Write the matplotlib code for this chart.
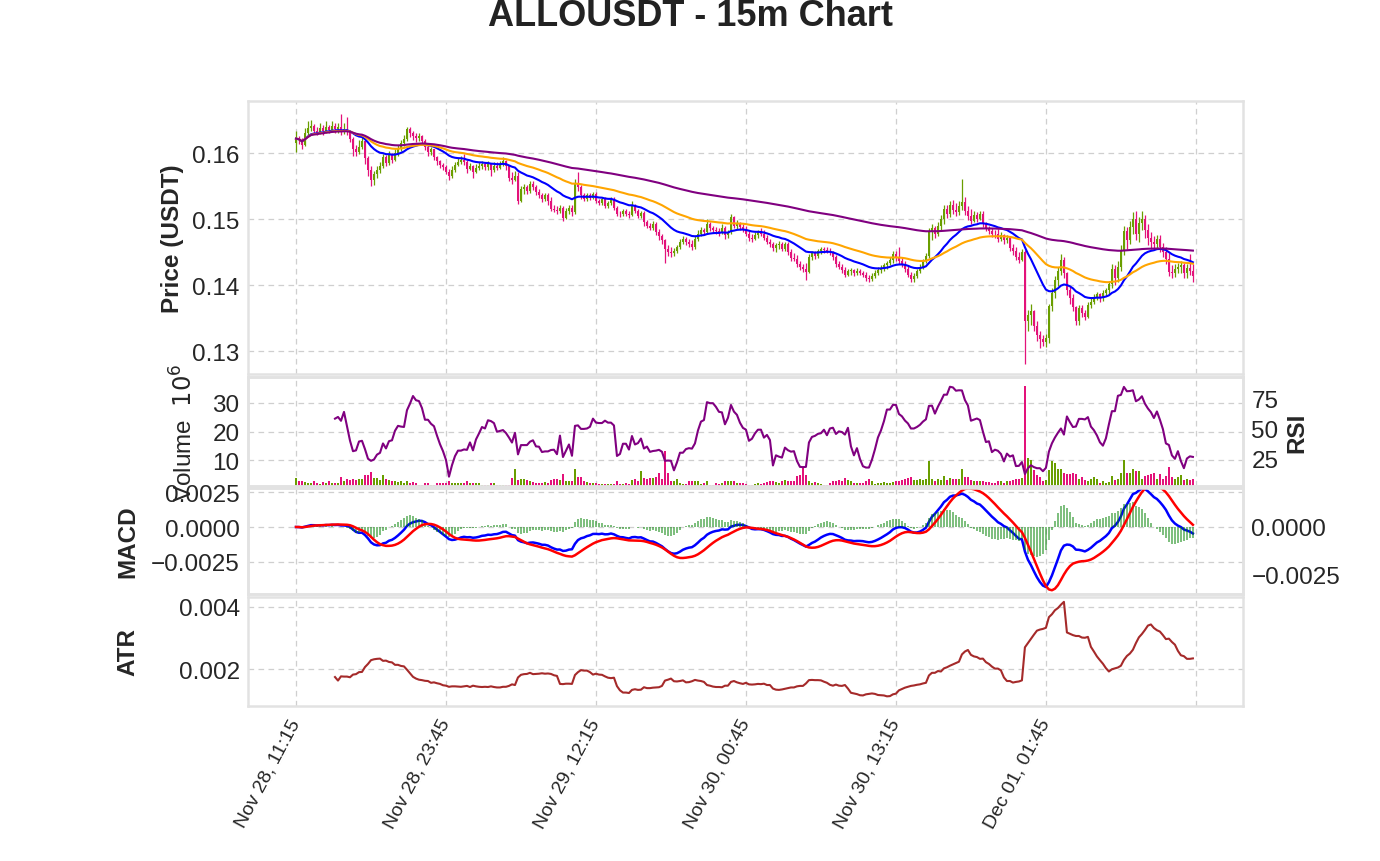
import pandas as pd
import numpy as np
import matplotlib
matplotlib.use('Agg')
import matplotlib.pyplot as plt
from matplotlib.ticker import MultipleLocator, FuncFormatter

plt.rcParams['font.family'] = ['Liberation Sans', 'DejaVu Sans']

# 15m candles, prices in units of 0.0001 USDT
start_time = '2024-11-28 11:15'
first_open = 1616
close = [
    1622, 1620, 1612, 1630, 1638, 1641, 1634, 1631, 1638, 1633, 1640, 1635, 1641, 1636, 1639, 1632, 1637, 1633,
    1622, 1606, 1601, 1610, 1618, 1592, 1575, 1560, 1568, 1574, 1580, 1594, 1585, 1598, 1590, 1600, 1608, 1615, 1622,
    1636, 1630, 1626, 1623, 1626, 1619, 1610, 1601, 1606, 1594, 1588, 1582, 1579, 1572, 1565,
    1574, 1582, 1587, 1590, 1586, 1576, 1580, 1572, 1578, 1581, 1584, 1579, 1583, 1575, 1581, 1578, 1584, 1588, 1580, 1563, 1560, 1566, 1528,
    1545, 1548, 1543, 1553, 1549, 1541, 1537, 1531, 1536, 1528, 1516, 1514, 1512, 1517, 1502, 1512, 1517, 1510, 1555, 1548, 1536,
    1530, 1536, 1532, 1538, 1528, 1525, 1530, 1520, 1525, 1530, 1517, 1508, 1507, 1513, 1507, 1506, 1520, 1512, 1505, 1509, 1495, 1490, 1487, 1493, 1481, 1474, 1468,
    1455, 1450, 1448, 1452, 1458, 1466, 1470, 1465, 1462, 1458, 1470, 1478, 1484, 1480, 1492, 1486, 1484, 1482, 1480, 1487, 1476, 1480, 1503, 1490,
    1494, 1488, 1485, 1478, 1472, 1470, 1476, 1480, 1478, 1472, 1466, 1462, 1456, 1460, 1463, 1455, 1462, 1450, 1441, 1440, 1432, 1428, 1425, 1420,
    1443, 1448, 1444, 1451, 1455, 1453, 1452, 1450, 1442, 1432, 1428, 1423, 1416, 1421, 1423, 1418, 1422, 1419, 1416, 1410, 1409, 1414, 1419, 1423, 1426, 1430, 1433, 1438, 1447,
    1442, 1437, 1432, 1425, 1416, 1409, 1414, 1421, 1428, 1436, 1444, 1480, 1486, 1478, 1490, 1500, 1515, 1508, 1522, 1514, 1510, 1520, 1526,
    1512, 1505, 1497, 1506, 1500, 1508, 1493, 1487, 1482, 1478, 1477, 1470, 1476, 1468, 1472, 1456, 1452, 1443, 1438, 1450,
    1345, 1355, 1360, 1338, 1325, 1318, 1314, 1320, 1368, 1388, 1408, 1422, 1438, 1418, 1392, 1380, 1366, 1346,
    1365, 1358, 1352, 1370, 1375, 1382, 1386, 1380, 1388, 1392, 1402, 1424, 1410, 1428, 1452, 1482, 1468, 1488, 1500, 1478,
    1494, 1500, 1484, 1472, 1466, 1462, 1470, 1458, 1450, 1440, 1420, 1418, 1424, 1428, 1430, 1418, 1426, 1422, 1414,
]
high = [
    1633, 1626, 1623, 1638, 1648, 1650, 1644, 1640, 1646, 1642, 1648, 1643, 1649, 1645, 1646, 1659, 1645, 1655,
    1634, 1625, 1612, 1620, 1624, 1620, 1596, 1580, 1573, 1580, 1586, 1598, 1597, 1603, 1600, 1606, 1612, 1620, 1627,
    1640, 1639, 1634, 1630, 1631, 1628, 1622, 1612, 1610, 1607, 1596, 1590, 1585, 1582, 1576,
    1580, 1586, 1592, 1595, 1598, 1590, 1585, 1582, 1584, 1586, 1588, 1586, 1588, 1585, 1586, 1586, 1588, 1594, 1590, 1582, 1571, 1573, 1571,
    1550, 1553, 1551, 1558, 1557, 1551, 1545, 1540, 1540, 1539, 1534, 1522, 1520, 1521, 1520, 1517, 1521, 1522, 1561, 1571, 1552,
    1539, 1539, 1539, 1541, 1541, 1531, 1533, 1533, 1528, 1533, 1533, 1520, 1512, 1516, 1516, 1512, 1528, 1523, 1515, 1512, 1512, 1498, 1494, 1497, 1496, 1485, 1478,
    1470, 1460, 1458, 1456, 1461, 1470, 1475, 1473, 1470, 1468, 1474, 1484, 1488, 1487, 1500, 1495, 1490, 1488, 1487, 1492, 1490, 1484, 1508, 1505,
    1498, 1496, 1492, 1490, 1482, 1478, 1480, 1484, 1486, 1484, 1476, 1470, 1466, 1464, 1467, 1466, 1466, 1465, 1455, 1448, 1445, 1437, 1432, 1434,
    1447, 1452, 1452, 1455, 1458, 1458, 1457, 1456, 1452, 1445, 1436, 1432, 1428, 1424, 1426, 1425, 1426, 1424, 1422, 1420, 1415, 1418, 1423, 1427, 1430, 1434, 1437, 1442, 1452,
    1451, 1457, 1442, 1436, 1430, 1420, 1418, 1425, 1432, 1440, 1448, 1486, 1492, 1490, 1496, 1506, 1522, 1522, 1528, 1529, 1524, 1527, 1561,
    1534, 1520, 1515, 1512, 1510, 1512, 1512, 1495, 1490, 1486, 1484, 1485, 1480, 1478, 1476, 1474, 1462, 1458, 1450, 1455,
    1453, 1362, 1372, 1362, 1345, 1330, 1324, 1326, 1372, 1395, 1414, 1428, 1447, 1442, 1420, 1398, 1386, 1368,
    1370, 1370, 1362, 1374, 1380, 1386, 1390, 1388, 1392, 1396, 1406, 1432, 1430, 1436, 1460, 1490, 1488, 1497, 1510, 1512,
    1503, 1512, 1506, 1492, 1480, 1474, 1476, 1476, 1464, 1458, 1448, 1430, 1432, 1434, 1436, 1434, 1432, 1447, 1432,
]
low = [
    1602, 1614, 1606, 1611, 1628, 1633, 1630, 1627, 1629, 1628, 1631, 1630, 1632, 1630, 1631, 1628, 1629, 1628,
    1617, 1596, 1596, 1598, 1606, 1584, 1565, 1550, 1552, 1563, 1570, 1577, 1580, 1582, 1585, 1588, 1596, 1603, 1611,
    1619, 1624, 1620, 1617, 1619, 1614, 1604, 1596, 1597, 1590, 1582, 1577, 1574, 1568, 1560,
    1563, 1572, 1580, 1584, 1582, 1570, 1574, 1563, 1570, 1574, 1576, 1574, 1575, 1566, 1572, 1574, 1576, 1580, 1574, 1558, 1553, 1557, 1523,
    1526, 1538, 1538, 1540, 1544, 1536, 1532, 1526, 1528, 1522, 1512, 1510, 1507, 1509, 1497, 1500, 1508, 1505, 1508, 1543, 1530,
    1527, 1527, 1529, 1530, 1525, 1522, 1522, 1517, 1517, 1522, 1514, 1505, 1503, 1504, 1504, 1502, 1504, 1509, 1502, 1502, 1490, 1486, 1483, 1484, 1476, 1469, 1463,
    1434, 1444, 1443, 1444, 1448, 1455, 1462, 1460, 1457, 1453, 1455, 1467, 1474, 1476, 1478, 1482, 1479, 1478, 1474, 1478, 1470, 1471, 1478, 1486,
    1485, 1483, 1481, 1474, 1467, 1466, 1468, 1472, 1474, 1468, 1462, 1457, 1452, 1450, 1455, 1451, 1452, 1446, 1437, 1436, 1428, 1423, 1420, 1407,
    1418, 1438, 1439, 1441, 1447, 1449, 1448, 1446, 1438, 1428, 1424, 1419, 1412, 1413, 1416, 1414, 1416, 1415, 1412, 1406, 1404, 1406, 1411, 1415, 1419, 1422, 1425, 1430, 1434,
    1437, 1432, 1427, 1420, 1412, 1405, 1404, 1410, 1418, 1425, 1433, 1441, 1468, 1472, 1474, 1483, 1493, 1501, 1503, 1508, 1504, 1506, 1514,
    1506, 1498, 1492, 1495, 1495, 1498, 1488, 1482, 1477, 1473, 1472, 1465, 1467, 1463, 1464, 1452, 1446, 1438, 1433, 1436,
    1280, 1330, 1340, 1330, 1315, 1305, 1308, 1306, 1312, 1360, 1380, 1398, 1415, 1410, 1385, 1372, 1360, 1340,
    1340, 1352, 1347, 1350, 1365, 1372, 1378, 1375, 1376, 1384, 1386, 1396, 1400, 1404, 1422, 1446, 1455, 1462, 1478, 1468,
    1465, 1484, 1472, 1460, 1455, 1454, 1456, 1450, 1442, 1432, 1413, 1410, 1412, 1418, 1418, 1410, 1410, 1415, 1405,
]
# volume in millions
volume = [
    3.7, 2.5, 2.5, 2.3, 2.05, 2.05, 2.5, 1.8, 1.6, 2.3,
    2.05, 2.5, 2.05, 2.05, 2.05, 3.9, 2.5, 3.4, 3.0, 3.2,
    3.0, 3.2, 3.2, 4.8, 4.8, 5.9, 3.7, 3.7, 3.0, 4.6,
    3.2, 3.0, 2.5, 2.5, 2.3, 2.5, 2.05, 2.5, 2.05, 2.3,
    1.8, 1.2, 1.2, 2.05, 2.05, 1.2, 1.2, 2.05, 2.05, 2.05,
    2.05, 2.5, 2.05, 2.05, 2.05, 1.8, 1.8, 2.5, 1.8, 1.8,
    2.05, 1.8, 1.2, 1.2, 1.2, 1.8, 1.8, 1.2, 1.2, 1.2,
    1.2, 1.2, 3.7, 7.0, 3.0, 3.2, 3.4, 3.0, 2.5, 2.3,
    2.05, 2.05, 2.05, 2.3, 2.05, 3.0, 3.2, 3.2, 3.0, 5.1,
    2.5, 2.5, 2.5, 6.7, 3.9, 3.9, 2.5, 2.3, 1.8, 1.8,
    2.05, 1.5, 1.5, 1.5, 1.5, 1.5, 1.5, 2.5, 1.5, 1.5,
    2.05, 1.5, 3.0, 3.2, 2.75, 6.2, 3.7, 3.2, 3.7, 3.7,
    3.9, 5.3, 3.2, 13.0, 5.3, 2.5, 2.5, 3.2, 2.05, 1.5,
    1.5, 2.5, 2.5, 2.5, 2.5, 1.5, 2.05, 2.5, 1.2, 1.2,
    1.8, 1.6, 2.05, 2.5, 2.5, 2.75, 2.75, 2.05, 2.05, 2.05,
    1.6, 1.2, 1.2, 1.6, 1.8, 1.6, 2.05, 2.3, 2.5, 2.75,
    2.3, 2.05, 2.5, 3.0, 2.5, 2.5, 2.5, 4.3, 4.8, 7.2,
    4.8, 2.5, 2.05, 2.3, 1.8, 1.6, 1.2, 1.2, 2.05, 2.5,
    2.75, 3.0, 2.5, 3.7, 3.0, 2.5, 2.05, 2.05, 2.05, 1.8,
    2.75, 3.4, 2.5, 1.6, 2.05, 2.05, 2.3, 2.05, 2.05, 2.3,
    2.75, 2.5, 3.0, 3.2, 3.7, 3.9, 3.0, 3.0, 3.2, 3.0,
    3.2, 9.8, 3.2, 2.5, 3.2, 3.0, 4.4, 3.0, 3.7, 3.2,
    3.2, 3.2, 7.0, 3.9, 3.9, 3.0, 2.5, 2.5, 2.5, 2.5,
    2.3, 2.3, 2.05, 2.05, 2.5, 2.5, 2.05, 2.75, 2.5, 3.0,
    3.2, 3.2, 3.7, 36.0, 10.7, 10.0, 6.5, 4.8, 3.9, 2.75,
    3.0, 6.5, 9.5, 9.1, 7.0, 7.0, 5.5, 5.1, 5.1, 5.3,
    5.1, 3.4, 3.9, 3.0, 2.75, 3.2, 3.9, 3.2, 2.05, 2.5,
    2.05, 2.3, 4.4, 3.0, 3.2, 5.3, 10.0, 5.3, 5.5, 6.7,
    6.0, 6.2, 3.2, 4.4, 4.8, 5.1, 5.3, 3.2, 5.1, 3.2,
    4.4, 7.4, 3.9, 3.2, 3.9, 4.8, 3.0, 3.2, 3.0, 3.2,
]
assert len(close) == len(high) == len(low) == len(volume) == 300

# frame
n = len(close)
x = np.arange(n)
df = pd.DataFrame({'close': close, 'high': high, 'low': low}, dtype=float) / 10000
df['open'] = df['close'].shift(1).fillna(first_open / 10000)
df['high'] = df[['high', 'open', 'close']].max(axis=1)
df['low'] = df[['low', 'open', 'close']].min(axis=1)
df['volume'] = volume
dates = pd.date_range(start_time, periods=n, freq='15min')

# indicators
ema_fast = df['close'].ewm(span=20).mean()
ema_mid = df['close'].ewm(span=50).mean()
ema_slow = df['close'].ewm(span=200).mean()
delta = df['close'].diff()
gain = delta.where(delta > 0, 0).rolling(14).mean()
loss = (-delta.where(delta < 0, 0)).rolling(14).mean()
rsi = 100 - 100 / (1 + gain / loss)
macd = df['close'].ewm(span=12).mean() - df['close'].ewm(span=26).mean()
signal = macd.ewm(span=9).mean()
hist = macd - signal
prev_close = df['close'].shift(1)
tr = pd.concat([df['high'] - df['low'], (df['high'] - prev_close).abs(),
                (df['low'] - prev_close).abs()], axis=1).max(axis=1)
atr = tr.rolling(14).mean()

up = df['close'] >= df['open']
up_color, down_color = '#6a9e00', '#e3127a'
colors = np.where(up, up_color, down_color)

# layout
W, H = 1380, 862
fig = plt.figure(figsize=(W / 100, H / 100), dpi=100)
def rect(top, bottom, left=248, right=1243):
    return [left / W, 1 - bottom / H, (right - left) / W, (bottom - top) / H]

ax1 = fig.add_axes(rect(102, 375))
ax2 = fig.add_axes(rect(378, 487), sharex=ax1)
ax3 = fig.add_axes(rect(489, 595), sharex=ax1)
ax4 = fig.add_axes(rect(598, 707), sharex=ax1)
ax2r = ax2.twinx()
ax3r = ax3.twinx()

txt = '#262626'
fs = 17.5
ticks = list(range(0, 301, 50))

for ax in [ax1, ax2, ax3, ax4, ax2r, ax3r]:
    ax.set_facecolor('none')
    for s in ax.spines.values():
        s.set_color('#e2e2e2')
        s.set_linewidth(1.8)
    ax.tick_params(length=0, labelsize=fs, colors=txt, pad=6)
for ax in [ax1, ax2, ax3, ax4]:
    ax.grid(True, color='#cfcfcf', lw=0.9, ls=(0, (4.5, 3.5)))
    ax.set_axisbelow(True)
    ax.set_xticks(ticks)
for ax in [ax2r, ax3r]:
    ax.grid(False)

# price
ax1.vlines(x, df['low'], df['high'], color=colors, lw=0.9, zorder=2)
ax1.bar(x, (df['close'] - df['open']).abs().clip(lower=0.00005),
        bottom=df[['open', 'close']].min(axis=1), width=0.65, color=colors, zorder=2)
ax1.plot(x, ema_fast, color='blue', lw=1.5, zorder=3)
ax1.plot(x, ema_mid, color='orange', lw=1.5, zorder=3)
ax1.plot(x, ema_slow, color='purple', lw=1.5, zorder=3)
ax1.set_ylim(0.12652, 0.1679)
ax1.yaxis.set_major_locator(MultipleLocator(0.01))
ax1.yaxis.set_major_formatter(FuncFormatter(lambda v, p: '%.2f' % v))
ax1.set_ylabel('Price (USDT)', fontsize=fs, fontweight='bold', color=txt)
ax1.yaxis.set_label_coords(-0.0643, 0.5)

# volume + rsi
ax2.bar(x, df['volume'], width=0.8, color=colors, zorder=2)
ax2.set_ylim(0.9, 39.1)
ax2.yaxis.set_major_locator(MultipleLocator(10))
ax2.set_ylabel('Volume  $10^{6}$', fontsize=fs, color=txt)
ax2.yaxis.set_label_coords(-0.0503, 0.5)
ax2r.plot(x, rsi, color='purple', lw=1.5)
ax2r.set_ylim(1.3, 93.6)
ax2r.yaxis.set_major_locator(MultipleLocator(25))
ax2r.set_ylabel('RSI', fontsize=fs, fontweight='bold', color=txt)
ax2r.yaxis.set_label_coords(1.0422, 0.5)

def signed(fmt):
    return FuncFormatter(lambda v, p: (fmt % v).replace('-', '\u2212'))

# macd: line on the left scale, signal and histogram on the right scale
ax3r.bar(x, hist, width=0.6, color='green', alpha=0.5)
ax3r.plot(x, signal, color='red', lw=1.8)
ax3.plot(x, macd, color='blue', lw=1.8, zorder=3)
ax3.set_ylim(-0.00479, 0.00279)
ax3r.set_ylim(-0.00349, 0.00203)
for ax in [ax3, ax3r]:
    ax.yaxis.set_major_locator(MultipleLocator(0.0025))
    ax.yaxis.set_major_formatter(signed('%.4f'))
ax3.set_ylabel('MACD', fontsize=fs, fontweight='bold', color=txt)
ax3.yaxis.set_label_coords(-0.1095, 0.5)

# atr
ax4.plot(x, atr, color='brown', lw=1.5)
ax4.set_ylim(0.00081, 0.00432)
ax4.yaxis.set_major_locator(MultipleLocator(0.002))
ax4.yaxis.set_major_formatter(FuncFormatter(lambda v, p: '%.3f' % v))
ax4.set_ylabel('ATR', fontsize=fs, fontweight='bold', color=txt)
ax4.yaxis.set_label_coords(-0.1095, 0.5)

ax1.set_xlim(-16, 315.7)
for ax in [ax1, ax2, ax3]:
    ax.tick_params(labelbottom=False)
labels = [dates[i].strftime('%b %d, %H:%M') if i < n else '' for i in ticks]
ax4.set_xticks(ticks)
ax4.set_xticklabels(labels, rotation=62, ha='right', va='center',
                    rotation_mode='anchor', fontsize=14)
ax4.tick_params(axis='x', pad=10)

fig.text(0.5, 1 - 16 / H, 'ALLOUSDT - 15m Chart', ha='center', va='center',
         fontsize=26, fontweight='bold', color='#222222')

fig.savefig('out.png', dpi=100)
